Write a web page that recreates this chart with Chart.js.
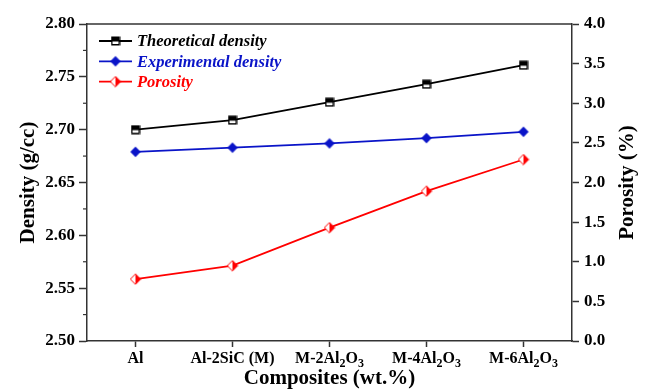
<!DOCTYPE html>
<html>
<head>
<meta charset="utf-8">
<script src="https://cdn.jsdelivr.net/npm/chart.js@4"></script>
<style>
  html, body { margin: 0; padding: 0; background: #fff; }
</style>
</head>
<body>
<canvas id="chart" width="645" height="391"></canvas>
<script>
// datos
const composites = ["Al", "Al-2SiC (M)", "M-2Al₂O₃", "M-4Al₂O₃", "M-6Al₂O₃"];
const theoreticalDensity = [2.700, 2.709, 2.726, 2.743, 2.761];
const experimentalDensity = [2.679, 2.683, 2.687, 2.692, 2.698];
const porosity = [0.78, 0.95, 1.43, 1.89, 2.29];

const SERIF = "'Liberation Serif', 'Times New Roman', serif";
const AXIS = "#333";

// --- marcadores (medio rellenos como en el original) ---
function squareHalf() {
  const c = document.createElement("canvas");
  c.width = c.height = 10;
  const g = c.getContext("2d");
  g.fillStyle = "#fff";
  g.fillRect(1, 1, 8, 8);
  g.fillStyle = "#000";
  g.fillRect(1, 1, 8, 4.5);
  g.strokeStyle = "#000";
  g.lineWidth = 1.5;
  g.strokeRect(1.25, 1.25, 7.5, 7.5);
  return c;
}

function diamond(color, half) {
  const c = document.createElement("canvas");
  c.width = c.height = 12;
  const g = c.getContext("2d");
  const path = () => {
    g.beginPath();
    g.moveTo(6, 0.8);
    g.lineTo(11.2, 6);
    g.lineTo(6, 11.2);
    g.lineTo(0.8, 6);
    g.closePath();
  };
  path();
  g.fillStyle = half ? "#fff" : color;
  g.fill();
  if (half) {
    g.save();
    g.beginPath();
    g.rect(6, 0, 6, 12);
    g.clip();
    path();
    g.fillStyle = color;
    g.fill();
    g.restore();
    path();
    g.strokeStyle = color;
    g.lineWidth = 1;
    g.stroke();
  }
  return c;
}

const mkTheo = squareHalf();
const mkExp = diamond("#0a14c8", false);
const mkPor = diamond("#ff0000", true);

// --- plugin: marco superior, ticks menores, etiquetas X con subíndices, título derecho y leyenda ---
const extrasPlugin = {
  id: "extras",
  afterDraw(chart) {
    const ctx = chart.ctx;
    const area = chart.chartArea;
    ctx.save();

    // línea superior del marco
    ctx.strokeStyle = AXIS;
    ctx.lineWidth = 1.5;
    ctx.beginPath();
    ctx.moveTo(area.left, area.top);
    ctx.lineTo(area.right, area.top);
    ctx.stroke();

    // ticks menores (más cortos)
    ctx.lineWidth = 1.2;
    const yL = chart.scales.y;
    yL.ticks.forEach((t) => {
      if (Math.round(t.value * 1000) % 50 !== 0) {
        const py = yL.getPixelForValue(t.value);
        ctx.beginPath();
        ctx.moveTo(area.left - 4, py);
        ctx.lineTo(area.left, py);
        ctx.stroke();
      }
    });
    const yR = chart.scales.y1;
    yR.ticks.forEach((t) => {
      if (Math.round(t.value * 100) % 50 !== 0) {
        const py = yR.getPixelForValue(t.value);
        ctx.beginPath();
        ctx.moveTo(area.right, py);
        ctx.lineTo(area.right + 4, py);
        ctx.stroke();
      }
    });

    // etiquetas del eje X con subíndices reales
    const xs = chart.scales.x;
    const sub = "₀₁₂₃₄₅₆₇₈₉";
    const big = "bold 16px " + SERIF;
    const small = "bold 12px " + SERIF;
    ctx.fillStyle = "#000";
    ctx.textBaseline = "alphabetic";
    ctx.textAlign = "left";
    composites.forEach((lab, i) => {
      const parts = Array.from(lab).map((ch) => {
        const k = sub.indexOf(ch);
        return k >= 0 ? { s: String(k), sub: true } : { s: ch, sub: false };
      });
      let w = 0;
      parts.forEach((p) => {
        ctx.font = p.sub ? small : big;
        p.w = ctx.measureText(p.s).width;
        w += p.w;
      });
      let px = xs.getPixelForValue(i) - w / 2;
      const base = 363;
      parts.forEach((p) => {
        ctx.font = p.sub ? small : big;
        ctx.fillText(p.s, px, p.sub ? base + 4 : base);
        px += p.w;
      });
    });

    // título del eje derecho (leído de abajo hacia arriba, como el izquierdo)
    ctx.save();
    ctx.translate(628, (area.top + area.bottom) / 2);
    ctx.rotate(-Math.PI / 2);
    ctx.font = "bold 21px " + SERIF;
    ctx.textAlign = "center";
    ctx.textBaseline = "middle";
    ctx.fillStyle = "#000";
    ctx.fillText("Porosity (%)", 0, 0);
    ctx.restore();

    // leyenda dentro del área
    ctx.font = "italic bold 16.5px " + SERIF;
    ctx.textBaseline = "middle";
    ctx.textAlign = "left";
    chart.data.datasets.forEach((ds, i) => {
      const ly = 41 + i * 20.3;
      ctx.strokeStyle = ds.borderColor;
      ctx.lineWidth = 1.8;
      ctx.beginPath();
      ctx.moveTo(99, ly);
      ctx.lineTo(132, ly);
      ctx.stroke();
      const img = ds.pointStyle;
      ctx.drawImage(img, 115.5 - img.width / 2, ly - img.height / 2);
      ctx.fillStyle = ds.borderColor;
      ctx.fillText(ds.label, 137, ly + 1);
    });

    ctx.restore();
  },
};

const ctx = document.getElementById("chart").getContext("2d");
new Chart(ctx, {
  type: "line",
  data: {
    labels: composites,
    datasets: [
      {
        label: "Theoretical density",
        data: theoreticalDensity,
        yAxisID: "y",
        borderColor: "#000000",
        borderWidth: 1.8,
        pointStyle: mkTheo,
        tension: 0,
      },
      {
        label: "Experimental density",
        data: experimentalDensity,
        yAxisID: "y",
        borderColor: "#0a14c8",
        borderWidth: 1.8,
        pointStyle: mkExp,
        tension: 0,
      },
      {
        label: "Porosity",
        data: porosity,
        yAxisID: "y1",
        borderColor: "#ff0000",
        borderWidth: 1.8,
        pointStyle: mkPor,
        tension: 0,
      },
    ],
  },
  options: {
    responsive: false,
    animation: false,
    devicePixelRatio: 1,
    layout: { padding: { top: 24, left: 0, right: 0, bottom: 0 } },
    plugins: {
      legend: { display: false },
      tooltip: { enabled: false },
    },
    scales: {
      x: {
        type: "category",
        offset: true,
        afterFit: (s) => { s.height = 50; },
        grid: {
          offset: false,
          drawOnChartArea: false,
          tickLength: 6,
          tickColor: AXIS,
          tickWidth: 1.5,
        },
        border: { color: AXIS, width: 1.5 },
        ticks: { display: false },
        title: {
          display: true,
          text: "Composites (wt.%)",
          color: "#000",
          font: { family: SERIF, size: 21, weight: "bold" },
          padding: { top: 0, bottom: 0 },
        },
      },
      y: {
        position: "left",
        min: 2.5,
        max: 2.8,
        afterFit: (s) => { s.width = 87; },
        grid: {
          drawOnChartArea: false,
          tickLength: 8,
          tickWidth: 1.5,
          tickColor: (c) =>
            c.tick && Math.round(c.tick.value * 1000) % 50 === 0 ? AXIS : "rgba(0,0,0,0)",
        },
        border: { color: AXIS, width: 1.5 },
        ticks: {
          stepSize: 0.025,
          color: "#000",
          padding: 4,
          font: { family: SERIF, size: 17, weight: "bold" },
          callback: (v) => (Math.round(v * 1000) % 50 === 0 ? v.toFixed(2) : ""),
        },
        title: {
          display: true,
          text: "Density (g/cc)",
          color: "#000",
          font: { family: SERIF, size: 21, weight: "bold" },
          padding: { top: 16, bottom: 0 },
        },
      },
      y1: {
        position: "right",
        min: 0,
        max: 4,
        afterFit: (s) => { s.width = 73; },
        grid: {
          drawOnChartArea: false,
          tickLength: 7,
          tickWidth: 1.5,
          tickColor: (c) =>
            c.tick && Math.round(c.tick.value * 100) % 50 === 0 ? AXIS : "rgba(0,0,0,0)",
        },
        border: { color: AXIS, width: 1.5 },
        ticks: {
          stepSize: 0.25,
          color: "#000",
          padding: 5,
          font: { family: SERIF, size: 17, weight: "bold" },
          callback: (v) => (Math.round(v * 100) % 50 === 0 ? v.toFixed(1) : ""),
        },
      },
    },
  },
  plugins: [extrasPlugin],
});
</script>
</body>
</html>
